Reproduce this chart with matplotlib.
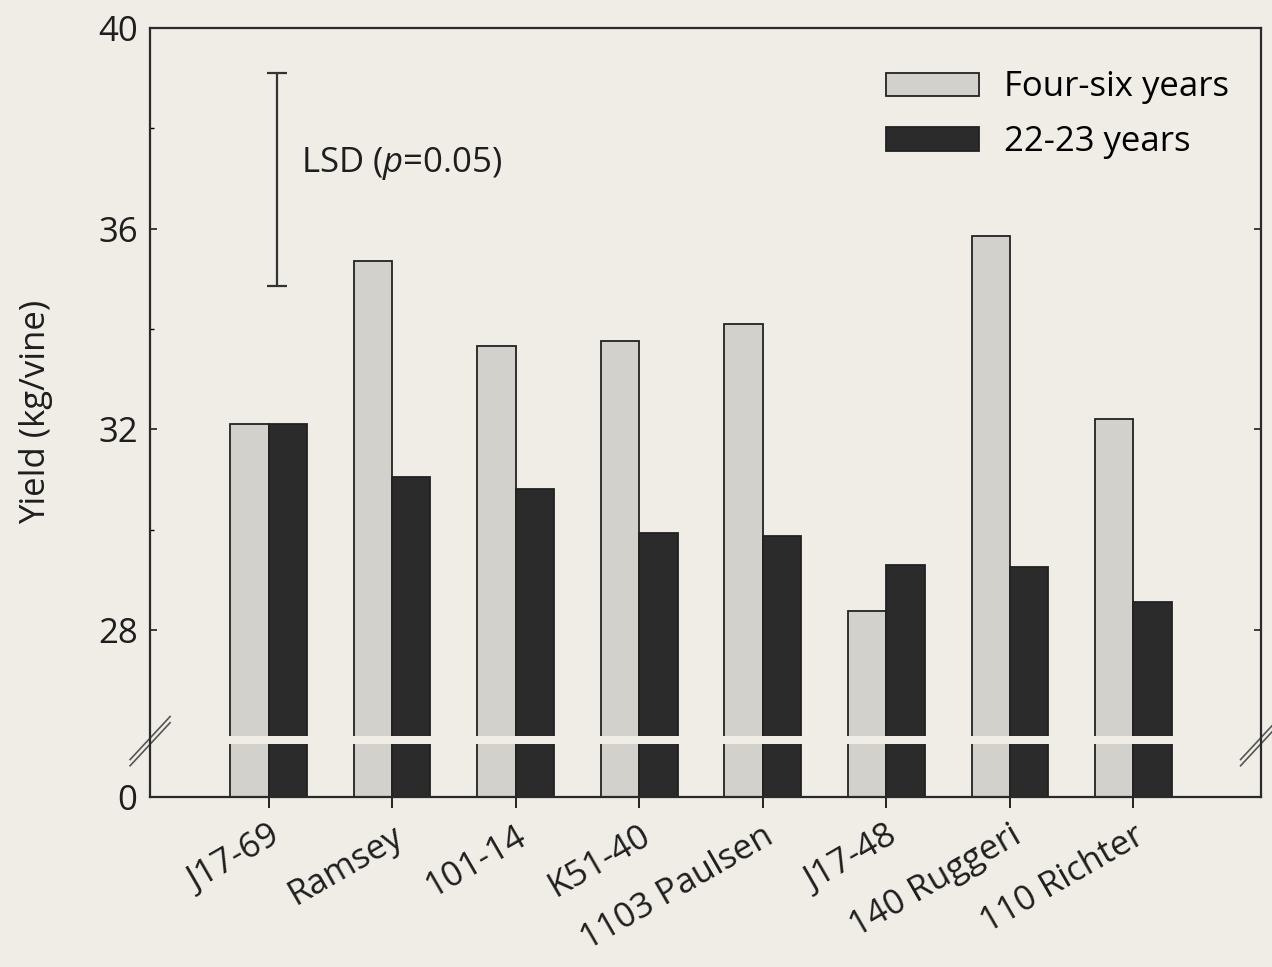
import numpy as np
import matplotlib
matplotlib.use('Agg')
import matplotlib.pyplot as plt

# yield per rootstock, two vineyard ages
rootstocks = ['J17-69', 'Ramsey', '101-14', 'K51-40', '1103 Paulsen',
              'J17-48', '140 Ruggeri', '110 Richter']
young = [32.1, 35.35, 33.65, 33.75, 34.1, 28.38, 35.85, 32.2]
old = [32.1, 31.05, 30.8, 29.93, 29.87, 29.3, 29.25, 28.56]
lsd_low, lsd_high = 34.85, 39.1

paper = '#efede6'
light = '#d3d1cb'
dark = '#2b2b2b'
ink = '#1e1e1e'

plt.rcParams['font.family'] = ['Open Sans', 'DejaVu Sans']
plt.rcParams['mathtext.fontset'] = 'custom'
plt.rcParams['mathtext.it'] = 'Open Sans:italic'
plt.rcParams['mathtext.rm'] = 'Open Sans'
fs = 25

# piecewise scale: normal above the break, squashed below it
brk = 25.73
squash = 1.06 / brk


def fwd(y):
    y = np.asarray(y, dtype=float)
    return np.where(y >= brk, y, brk - (brk - y) * squash)


def inv(z):
    z = np.asarray(z, dtype=float)
    return np.where(z >= brk, z, brk - (brk - z) / squash)


fig = plt.figure(figsize=(12.72, 9.67), dpi=100, facecolor=paper)
ax = fig.add_axes([0.118, 0.176, 0.873, 0.795], facecolor=paper)
ax.set_yscale('function', functions=(fwd, inv))

x = np.arange(len(rootstocks))
w = 0.31
b1 = ax.bar(x - w / 2, young, w, color=light, edgecolor='#222222', lw=1.3,
            label='Four-six years', zorder=1)
b2 = ax.bar(x + w / 2, old, w, color=dark, edgecolor='#222222', lw=1.3,
            label='22-23 years', zorder=1)

ax.set_ylim(0, 40)
ax.set_xlim(-0.96, 8.03)

# gap across the bars at the axis break
ax.axhspan(brk, brk + 0.16, color=paper, lw=0, zorder=2)

# LSD bar
ax.errorbar([0.07], [(lsd_low + lsd_high) / 2], yerr=[(lsd_high - lsd_low) / 2],
            fmt='none', ecolor='#333333', elinewidth=1.6, capsize=7, capthick=1.6)
ax.text(0.26, 37.3, 'LSD ($\\it{p}$=0.05)', fontsize=fs, va='center', ha='left',
        color=ink)

ax.set_yticks([0, 28, 32, 36, 40])
ax.set_yticks([30, 34, 38], minor=True)
ax.tick_params(axis='y', which='major', direction='in', length=5, width=1.2,
               right=True, labelsize=fs, pad=9, colors=ink)
ax.tick_params(axis='y', which='minor', direction='in', length=3, width=1.0)
ax.set_xticks(x)
ax.set_xticklabels(rootstocks, rotation=30, ha='right', rotation_mode='anchor',
                   fontsize=fs, color=ink)
ax.tick_params(axis='x', direction='out', length=8, width=1.2, pad=8)
ax.set_ylabel('Yield (kg/vine)', fontsize=fs, color=ink, labelpad=32)

for s in ax.spines.values():
    s.set_linewidth(1.6)
    s.set_color('#2a2a2a')

# break marks on both side spines
fig.canvas.draw()
yb = ax.transAxes.inverted().transform(ax.transData.transform((0, brk + 0.05)))[1]
dx, dy = 0.018, 0.028
for xs in (0.0, 1.0):
    for off in (-0.004, 0.004):
        ax.plot([xs - dx, xs + dx], [yb - dy + off, yb + dy + off],
                transform=ax.transAxes, color='#555555', lw=1.2, clip_on=False)

ax.legend(handles=[b1, b2], loc='upper right', frameon=False, fontsize=fs,
          handlelength=2.7, handleheight=0.65, handletextpad=0.7, labelspacing=0.6,
          bbox_to_anchor=(0.99, 0.972), borderaxespad=0.2)

fig.savefig('out.png', dpi=100, facecolor=paper)
